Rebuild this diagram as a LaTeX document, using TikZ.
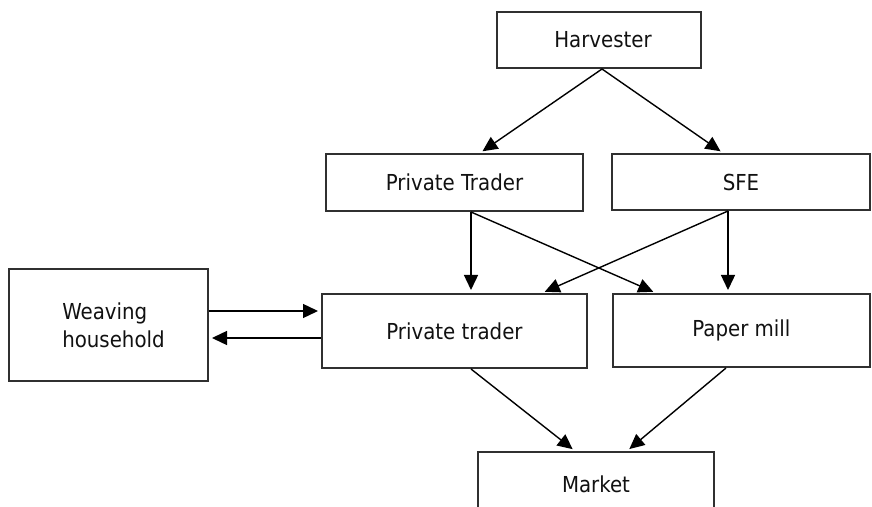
\documentclass[tikz,border=0pt]{standalone}
\usepackage{fontspec}
\setmainfont{DejaVu Sans Condensed}
\usepackage{tikz}
\usetikzlibrary{arrows.meta}
\definecolor{ink}{HTML}{111111}
\definecolor{edge}{HTML}{303030}

\begin{document}
\begin{tikzpicture}[x=0.5pt,y=-0.5pt,
  box/.style={draw=edge,line width=1pt,inner sep=0pt,align=center,text=ink,
    font=\fontsize{11}{14}\selectfont},
  flow/.style={-{Triangle[length=7.5pt,width=7pt]},line width=0.7pt,shorten >=1.5pt}]
  \useasboundingbox (0,0) rectangle (872,507);
  \clip (0,0) rectangle (872,507);

  \node[box,minimum width=102pt,minimum height=28pt] (harv) at (599,40) {\hspace*{4pt}Harvester};
  \node[box,minimum width=128.5pt,minimum height=28.5pt] (ptop) at (454.5,182.5) {Private Trader};
  \node[box,minimum width=129pt,minimum height=28pt] (sfe) at (741,182) {SFE};
  \node[box,align=left,minimum width=99.5pt,minimum height=56pt] (weave) at (108.5,325)
    {\hspace*{5pt}Weaving\\\hspace*{5pt}household};
  \node[box,minimum width=132.5pt,minimum height=37pt] (ptlow) at (454.5,331) {\raisebox{-2pt}{Private trader}};
  \node[box,minimum width=128.5pt,minimum height=36.5pt] (mill) at (741.5,330.5) {Paper mill};
  \node[box,minimum width=118pt,minimum height=32pt] (market) at (596,484) {Market};

  \draw[flow] ([xshift=1.5pt]harv.south) -- ([xshift=12.75pt]ptop.north);
  \draw[flow] ([xshift=1.5pt]harv.south) -- ([xshift=-9pt]sfe.north);
  \draw[flow] ([xshift=8.25pt]ptop.south) -- ([xshift=8.25pt]ptlow.north);
  \draw[flow] ([xshift=8.25pt]ptop.south) -- ([xshift=-42.75pt]mill.north);
  \draw[flow] ([xshift=-6.5pt]sfe.south) -- ([xshift=43.75pt]ptlow.north);
  \draw[flow] ([xshift=-6.5pt]sfe.south) -- ([xshift=-6.75pt]mill.north);
  \draw[flow] ([yshift=7pt]weave.east) -- ([yshift=7pt]weave.east -| ptlow.west);
  \draw[flow] ([yshift=-6.5pt]weave.east -| ptlow.west) -- ([yshift=-6.5pt]weave.east);
  \draw[flow] ([xshift=8.25pt]ptlow.south) -- ([xshift=-10.5pt]market.north);
  \draw[flow] ([xshift=-7.75pt]mill.south) -- ([xshift=15.5pt]market.north);
\end{tikzpicture}
\end{document}
